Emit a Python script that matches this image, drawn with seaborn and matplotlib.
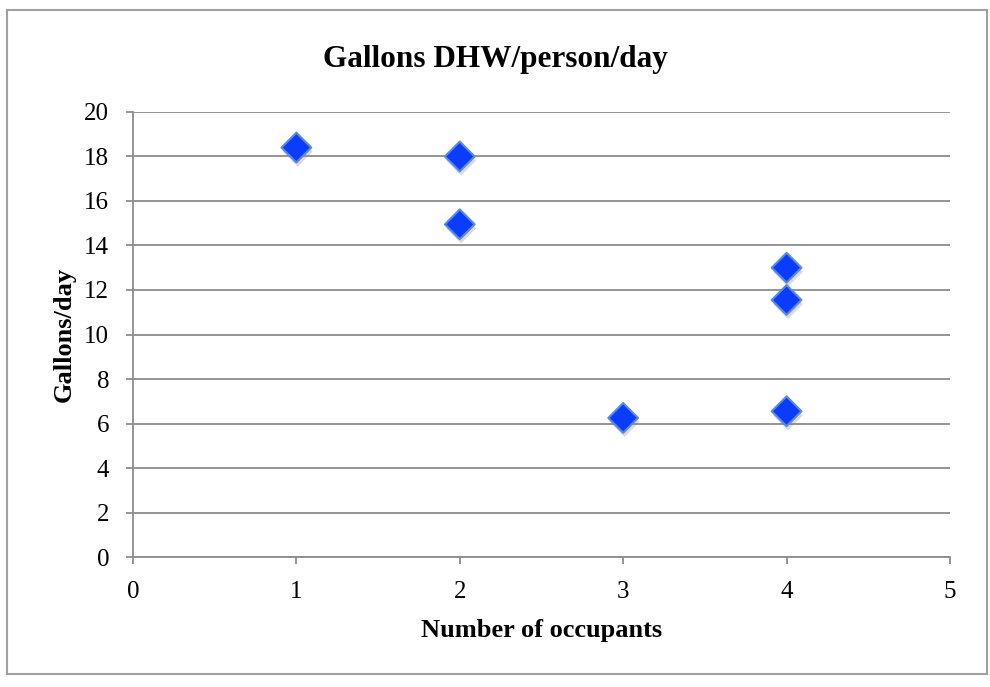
import pandas as pd
import matplotlib.pyplot as plt
import matplotlib.patheffects as pe
import seaborn as sns

occupants = [1, 2, 2, 3, 4, 4, 4]
gallons_per_day = [18.4, 18.0, 14.95, 6.25, 13.0, 11.55, 6.55]
x_ticks = [0, 1, 2, 3, 4, 5]
y_ticks = [0, 2, 4, 6, 8, 10, 12, 14, 16, 18, 20]

df = pd.DataFrame({"occupants": occupants, "gallons": gallons_per_day})

sns.set_style("white")
plt.rcParams['font.family'] = ['Liberation Serif', 'DejaVu Serif']
plt.rcParams['text.color'] = 'black'
plt.rcParams['axes.labelcolor'] = 'black'
plt.rcParams['xtick.color'] = 'black'
plt.rcParams['ytick.color'] = 'black'

fig = plt.figure(figsize=(9.9, 6.87), dpi=100)
ax = fig.add_axes([0.1343, 0.1892, 0.8253, 0.6478])

# outer chart border
fig.patches.append(plt.Rectangle((0.007, 0.019), 0.990, 0.966, transform=fig.transFigure,
                                 fill=False, edgecolor="#a0a0a0", linewidth=1.5))

sns.scatterplot(data=df, x="occupants", y="gallons", ax=ax, marker="D", s=230,
                color="#0a3cff", edgecolor="#5b8ad6", linewidth=1.5, zorder=3)
for coll in ax.collections:
    coll.set_path_effects([pe.SimplePatchShadow(offset=(1, -3), shadow_rgbFace="#888888", alpha=0.3),
                           pe.Normal()])

ax.set_xlim(0, 5)
ax.set_ylim(0, 20)
ax.set_xticks(x_ticks)
ax.set_yticks(y_ticks)
ax.yaxis.grid(True, color="#8c8c8c", linewidth=1.3)
ax.set_axisbelow(True)
for side in ["top", "right"]:
    ax.spines[side].set_visible(False)
for side in ["left", "bottom"]:
    ax.spines[side].set_color("#8c8c8c")
    ax.spines[side].set_linewidth(1.3)
ax.tick_params(axis="both", length=5, width=1.3, color="#8c8c8c", labelcolor="black",
               labelsize=18, direction="out", left=True, bottom=True)
ax.tick_params(axis="y", pad=12)
ax.tick_params(axis="x", pad=12)

fig.text(0.5, 1 - 60 / 687, "Gallons DHW/person/day", fontsize=22.5, fontweight="bold",
         ha="center", va="center")
ax.set_xlabel("Number of occupants", fontsize=19, fontweight="bold", labelpad=12)
ax.set_ylabel("Gallons/day", fontsize=19, fontweight="bold", labelpad=6)

fig.savefig("out.png", dpi=100)
